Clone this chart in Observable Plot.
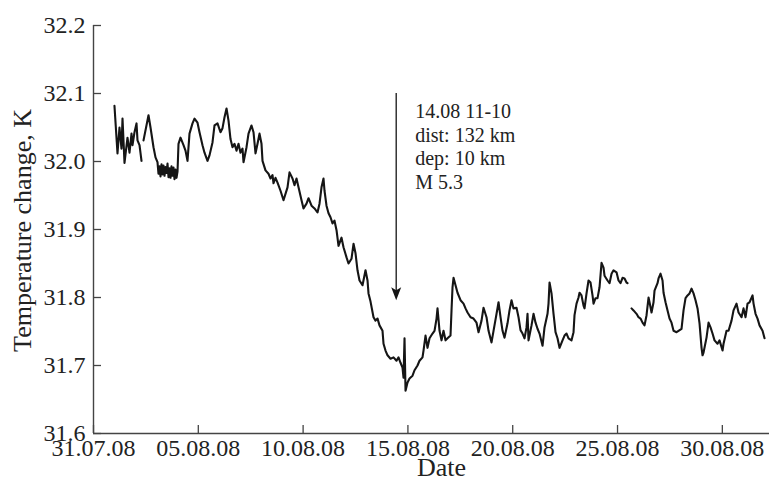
<!DOCTYPE html>
<html>
<head>
<meta charset="utf-8">
<script src="https://cdn.jsdelivr.net/npm/d3@7"></script>
<script src="https://cdn.jsdelivr.net/npm/@observablehq/plot@0.6"></script>
<style>
  html, body { margin: 0; padding: 0; background: #fff; }
  #chart { width: 770px; height: 489px; }
</style>
</head>
<body>
<div id="chart"></div>
<script>
// Days since 31.07.08 00:00 (NaN temperature = gap in record)
const days = [
  1.00,1.145,1.24,1.336,1.384,1.479,1.622,1.718,1.813,1.861,1.956,2.052,2.099,2.195,2.29,
  2.338,
  2.386,2.624,2.72,2.863,2.958,3.053,3.10,3.149,3.197,3.245,3.292,3.34,3.388,3.435,3.483,3.531,3.578,3.626,
  3.674,3.721,3.769,3.817,3.864,3.912,3.96,4.008,
  4.055,4.151,4.294,4.389,4.485,4.58,4.723,4.819,4.962,5.057,5.2,5.296,5.439,5.534,5.677,5.773,5.916,6.059,
  6.155,6.25,6.346,6.441,6.536,6.632,6.727,6.823,6.918,7.013,7.109,7.157,7.3,7.395,7.538,7.634,7.729,7.825,
  7.92,8.015,8.063,8.206,8.349,8.445,8.54,8.588,8.683,8.779,8.922,9.065,9.256,9.351,9.494,9.59,9.685,9.781,
  9.924,10.019,10.162,10.258,10.401,10.544,10.687,10.782,10.878,10.973,11.021,11.116,11.212,11.307,11.403,
  11.498,11.594,11.689,11.832,11.927,12.071,12.166,12.309,12.405,12.5,12.595,12.691,12.834,12.977,13.073,
  13.12,13.216,13.359,13.454,13.55,13.645,13.788,13.836,13.931,14.027,14.17,14.313,14.456,14.552,14.647,
  14.742,14.79,14.838,14.886,14.981,15.076,15.22,15.315,15.458,15.553,15.696,15.744,15.84,15.935,16.031,
  16.174,16.269,16.365,16.412,16.508,16.603,16.698,16.794,16.889,17.032,17.08,17.128,17.176,17.271,17.366,
  17.51,17.653,17.748,17.844,17.987,18.13,18.273,18.369,18.512,18.607,18.75,18.846,18.989,19.084,19.227,
  19.323,19.418,19.514,19.609,19.752,19.847,19.943,20.038,20.181,20.277,20.372,20.468,20.563,20.658,20.706,
  20.754,20.897,20.992,21.088,21.183,21.279,21.422,21.517,21.66,21.708,21.756,21.851,21.947,22.042,22.137,
  22.233,22.376,22.471,22.567,22.662,22.805,22.901,22.948,23.044,23.139,23.187,23.282,23.378,23.426,23.521,
  23.616,23.712,23.807,23.855,23.95,24.046,24.141,24.237,24.332,24.38,24.523,24.618,24.714,24.809,24.952,
  25.048,25.143,25.239,25.334,25.43,25.477,
  25.57,
  25.668,25.763,25.906,26.002,26.097,26.193,26.288,26.384,26.479,26.527,26.622,26.718,26.765,26.908,26.956,
  27.052,27.147,27.195,27.29,27.386,27.481,27.576,27.672,27.815,27.91,28.053,28.149,28.244,28.34,28.435,
  28.531,28.626,28.721,28.817,28.912,29.008,29.055,29.103,29.246,29.342,29.437,29.532,29.628,29.771,29.866,
  30.01,30.057,30.2,30.296,30.439,30.534,30.677,30.773,30.916,31.011,31.107,31.202,31.298,31.441,31.489,
  31.584,31.679,31.775,31.918,32.013
];
const temps = [
  32.082,32.012,32.05,32.019,32.063,31.998,32.035,32.013,32.041,32.024,32.043,32.056,32.031,32.024,32.001,
  NaN,
  32.031,32.068,32.05,32.021,32.006,31.999,31.982,31.993,31.978,31.996,31.981,31.994,31.979,31.992,31.983,31.997,31.977,31.99,
  31.976,31.993,31.979,31.991,31.974,31.988,31.976,31.985,
  32.026,32.035,32.024,32.016,32.001,32.041,32.056,32.063,32.057,32.043,32.024,32.013,32.001,32.009,32.028,32.053,32.056,32.043,
  32.049,32.065,32.078,32.06,32.033,32.021,32.026,32.016,32.026,32.013,32.019,31.999,32.021,32.041,32.053,32.043,32.012,32.026,
  32.041,32.026,32.001,31.987,31.982,31.975,31.98,31.968,31.976,31.969,31.957,31.943,31.962,31.984,31.975,31.965,31.975,31.962,
  31.943,31.931,31.938,31.946,31.935,31.931,31.925,31.938,31.962,31.975,31.957,31.935,31.924,31.918,31.909,
  31.913,31.899,31.876,31.888,31.874,31.859,31.85,31.857,31.879,31.865,31.84,31.825,31.818,31.84,31.825,
  31.806,31.794,31.771,31.766,31.769,31.759,31.751,31.732,31.722,31.715,31.71,31.712,31.707,31.712,31.704,
  31.697,31.682,31.74,31.663,31.675,31.681,31.685,31.693,31.7,31.707,31.712,31.722,31.744,31.726,31.74,
  31.747,31.751,31.769,31.784,31.751,31.737,31.751,31.737,31.74,31.744,31.781,31.815,31.829,31.818,31.807,
  31.796,31.791,31.784,31.778,31.771,31.769,31.763,31.749,31.766,31.785,31.771,31.751,31.734,31.751,31.776,
  31.793,31.771,31.751,31.741,31.762,31.781,31.796,31.784,31.785,31.771,31.752,31.747,31.74,31.756,31.776,
  31.737,31.759,31.776,31.763,31.754,31.747,31.729,31.756,31.776,31.791,31.822,31.806,31.776,31.749,31.74,
  31.726,31.737,31.744,31.747,31.74,31.737,31.749,31.774,31.791,31.8,31.807,31.803,31.788,31.784,31.806,
  31.825,31.822,31.803,31.791,31.799,31.799,31.815,31.851,31.844,31.832,31.825,31.821,31.835,31.84,31.837,
  31.825,31.821,31.829,31.828,31.822,31.821,
  NaN,
  31.784,31.781,31.776,31.771,31.769,31.763,31.759,31.774,31.8,31.793,31.778,31.793,31.81,31.821,31.828,
  31.835,31.825,31.807,31.793,31.781,31.769,31.763,31.751,31.749,31.751,31.754,31.781,31.799,31.803,31.806,
  31.813,31.806,31.796,31.784,31.762,31.726,31.715,31.719,31.741,31.763,31.756,31.747,31.737,31.732,31.737,
  31.722,31.732,31.751,31.751,31.766,31.781,31.791,31.778,31.771,31.784,31.771,31.791,31.793,31.803,31.791,
  31.776,31.769,31.759,31.751,31.74
];
const xTickLabels = ["31.07.08","05.08.08","10.08.08","15.08.08","20.08.08","25.08.08","30.08.08"];
const yTicks = [31.6, 31.7, 31.8, 31.9, 32.0, 32.1, 32.2];
const xDomain = ["2008-07-31T00:00Z", "2008-09-01T06:00Z"];
const yDomain = [31.6, 32.2];
const eventTime = "2008-08-14T10:35Z";
const arrowTop = 32.1;
const arrowTip = 31.796;
const annotationLines = ["14.08 11-10", "dist: 132 km", "dep: 10 km", "M 5.3"];
const xLabel = "Date";
const yLabel = "Temperature change, K";

const start = Date.UTC(2008, 6, 31);
const series = days.map((d, i) => ({date: new Date(start + d * 864e5), temp: temps[i]}));
const parseTick = d3.utcParse("%d.%m.%y");
const xTicks = xTickLabels.map(parseTick);
const ev = {x: new Date(eventTime), y1: arrowTop, y2: arrowTip};

const W = 770, H = 489, mL = 93, mR = 1, mT = 25, mB = 56;
const axisColor = "#444";
const inkColor = "#151515";
const serif = "'Liberation Serif', 'Times New Roman', serif";

const arrowHead = {
  draw(ctx) {
    ctx.moveTo(0, 0);
    ctx.lineTo(-5, -13);
    ctx.lineTo(0, -10);
    ctx.lineTo(5, -13);
    ctx.closePath();
  }
};

const chart = Plot.plot({
  width: W,
  height: H,
  marginLeft: mL,
  marginRight: mR,
  marginTop: mT,
  marginBottom: mB,
  style: {fontFamily: serif, fontSize: "24px", color: "#222", background: "#fff"},
  x: {type: "utc", domain: xDomain.map(d => new Date(d))},
  y: {domain: yDomain},
  marks: [
    Plot.axisY({ticks: yTicks, tickSize: 0, tickPadding: 8, tickFormat: d3.format(".1f"), label: null, fontSize: 24}),
    Plot.axisX({ticks: xTicks, tickSize: 0, tickPadding: 5, tickFormat: d3.utcFormat("%d.%m.%y"), label: null, fontSize: 24}),
    Plot.tickY(yTicks, {y: d => d, insetRight: (W - mL - mR) - 8, stroke: axisColor, strokeWidth: 1.3}),
    Plot.tickX(xTicks, {x: d => d, insetTop: (H - mT - mB) - 8, stroke: axisColor, strokeWidth: 1.3}),
    Plot.ruleX([new Date(xDomain[0])], {stroke: axisColor, strokeWidth: 1.4}),
    Plot.ruleY([yDomain[0]], {stroke: axisColor, strokeWidth: 1.4}),
    Plot.line(series, {x: "date", y: "temp", stroke: inkColor, strokeWidth: 2.1, strokeLinejoin: "round"}),
    Plot.ruleX([ev], {x: "x", y1: "y1", y2: d => d.y2 + 0.012, stroke: inkColor, strokeWidth: 1.3}),
    Plot.dot([ev], {x: "x", y: "y2", symbol: arrowHead, r: 5, fill: inkColor, stroke: "none"}),
    Plot.text([annotationLines.join("\n")], {
      x: () => ev.x, y: () => arrowTop, text: d => d,
      textAnchor: "start", lineAnchor: "top", lineHeight: 1.18,
      dx: 19, dy: 8, fontSize: 20, fill: "#222"
    }),
    Plot.text([xLabel], {frameAnchor: "bottom", textAnchor: "middle", lineAnchor: "middle", dx: 10, dy: 34, fontSize: 26, fill: "#222"}),
    Plot.text([yLabel], {frameAnchor: "left", textAnchor: "middle", lineAnchor: "middle", rotate: -90, dx: -71, dy: 1, fontSize: 26, fill: "#222"})
  ]
});
document.getElementById("chart").appendChild(chart);
</script>
</body>
</html>
